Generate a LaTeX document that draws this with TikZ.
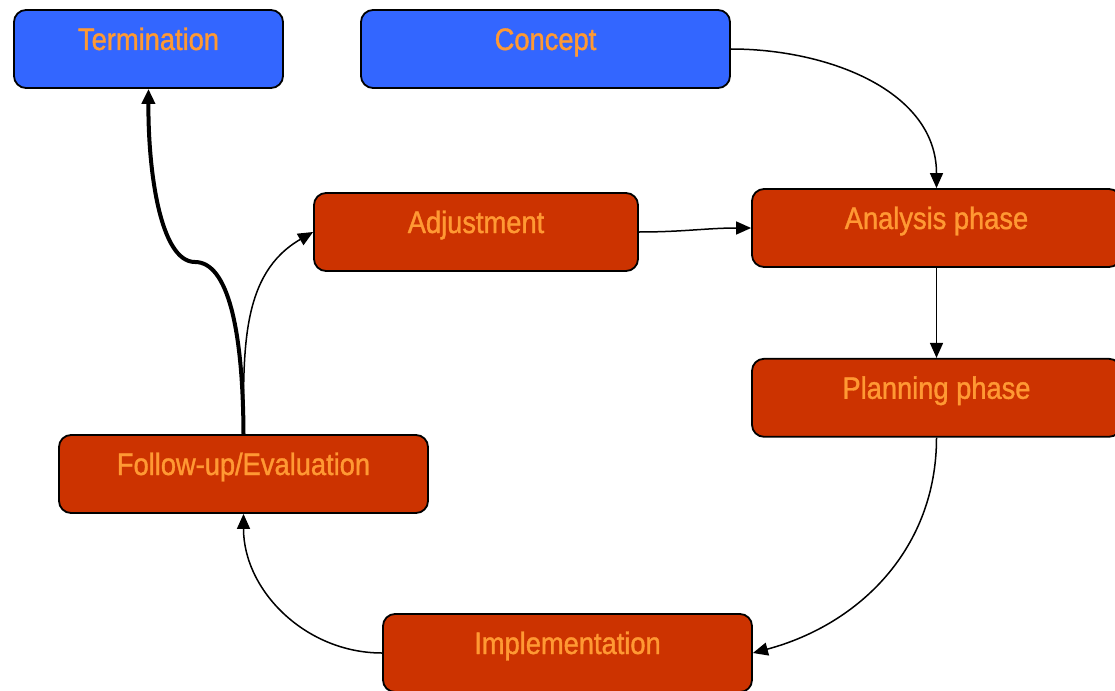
\documentclass[tikz,border=0pt]{standalone}
\usepackage{fontspec}
\setmainfont{Liberation Sans}[FakeStretch=0.88,FakeBold=1.2]
\usetikzlibrary{positioning,arrows.meta}
\definecolor{phasered}{HTML}{CC3300}
\definecolor{endblue}{HTML}{3366FF}
\definecolor{labelorange}{HTML}{FF9933}
\tikzset{
  phase/.style={draw=black, line width=1.8pt, rounded corners=12pt, fill=phasered,
    text=labelorange, minimum width=369pt, minimum height=78pt, inner sep=0pt,
    text height=22pt, text depth=20pt, font=\fontsize{31}{31}\selectfont},
  endbox/.style={phase, fill=endblue},
  flow/.style={-{Triangle[length=15pt,width=13pt]}, line width=1.5pt},
}
\begin{document}
\begin{tikzpicture}[x=1pt,y=-1pt]
  \useasboundingbox (0,0) rectangle (1115,690);
  \node[endbox, minimum width=269pt] (termination) at (148.5,49) {Termination};
  \node[endbox] (concept) at (545.5,49) {Concept};
  \node[phase, minimum width=324pt] (adjustment) at (476,232) {Adjustment};
  \node[phase] (analysis) at (936.5,228) {Analysis phase};
  \node[phase, below=90pt of analysis] (planning) {Planning phase};
  \node[phase] (followup) at (243.5,474) {Follow-up/Evaluation};
  \node[phase] (implementation) at (567.5,653) {Implementation};
  \path[flow] (concept.east) edge[out=0,in=90] (analysis.north);
  \path[flow] (adjustment.east) edge[out=0,in=180] (analysis.west);
  \path[flow] (analysis) edge (planning);
  \path[flow] (planning.south) edge[out=-90,in=15] (implementation.east);
  \path[flow] (implementation.west) edge[out=180,in=-90] (followup.south);
  \path[flow] (followup.north) edge[out=90,in=210] (adjustment.west);
  \draw[flow, line width=4pt] (followup.north) .. controls (243,330) and (228,262) .. (195,262)
    .. controls (160,262) and (148,170) .. (termination.south);
\end{tikzpicture}
\end{document}
